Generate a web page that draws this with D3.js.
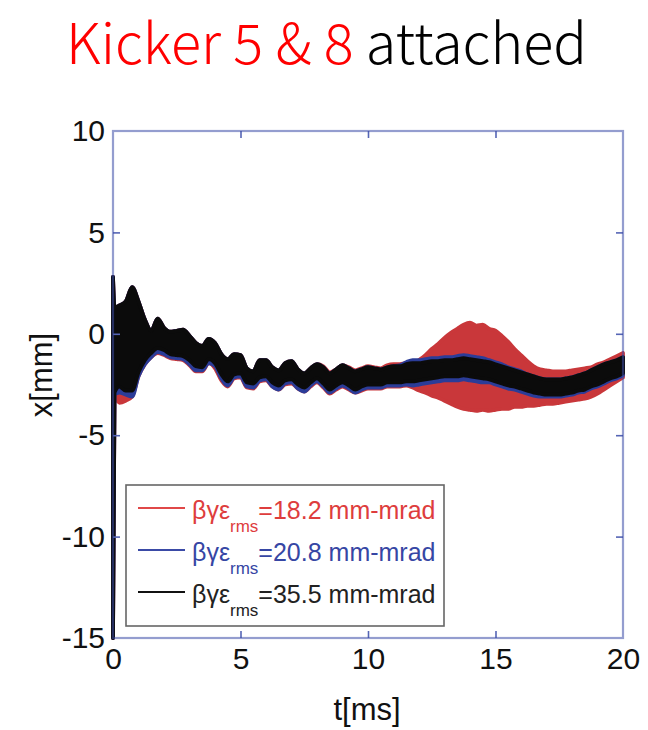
<!DOCTYPE html>
<html>
<head>
<meta charset="utf-8">
<script src="https://cdn.jsdelivr.net/npm/d3@7"></script>
<style>
  html, body { margin: 0; padding: 0; background: #fff; }
  svg { display: block; }
</style>
</head>
<body>
<svg id="chart" width="648" height="730"></svg>
<script>
// ---------- DATA ----------
const titleRed = "Kicker 5 & 8";
const titleBlack = " attached";
const xTicks = [0, 5, 10, 15, 20];
const yTicks = [10, 5, 0, -5, -10, -15];
const xLabel = "t[ms]";
const yLabel = "x[mm]";
const seriesNames = ["18.2 mm-mrad", "20.8 mm-mrad", "35.5 mm-mrad"];

const time = [
  0, 0.06,
  0.25, 0.5, 0.75, 1.0,
  1.25, 1.5, 1.75, 2.0,
  2.25, 2.5, 2.75, 3.0,
  3.25, 3.5, 3.75, 4.0,
  4.25, 4.5, 4.75, 5.0,
  5.25, 5.5, 5.75, 6.0,
  6.25, 6.5, 6.75, 7.0,
  7.25, 7.5, 7.75, 8.0,
  8.25, 8.5, 8.75, 9.0,
  9.25, 9.5, 9.75, 10.0,
  10.25, 10.5, 10.75, 11.0,
  11.25, 11.5, 11.75, 12.0,
  12.25, 12.5, 12.75, 13.0,
  13.25, 13.5, 13.75, 14.0,
  14.25, 14.5, 14.75, 15.0,
  15.25, 15.5, 15.75, 16.0,
  16.25, 16.5, 16.75, 17.0,
  17.25, 17.5, 17.75, 18.0,
  18.25, 18.5, 18.75, 19.0,
  19.25, 19.5, 19.75, 20.0
];

// envelope (upper / lower) of the fast oscillation, emittance 18.2 mm-mrad (red)
const redHi = [
  2.8, 1.3,
  1.4, 1.6, 2.3, 1.6,
  0.7, 0.15, 0.75, 0.3,
  0.1, 0.15, 0.2, -0.1,
  -0.45, -0.6, -0.25, -0.45,
  -1.0, -1.25, -1.0, -1.05,
  -1.7, -1.85, -1.3, -1.3,
  -1.65, -1.8, -1.45, -1.35,
  -1.75, -1.95, -1.7, -1.5,
  -1.6, -1.9, -1.75, -1.55,
  -1.65, -1.8, -1.7, -1.6,
  -1.65, -1.7, -1.55, -1.5,
  -1.5, -1.45, -1.5, -1.3,
  -1.05, -0.75, -0.5, -0.2,
  0.05, 0.25, 0.45, 0.55,
  0.4, 0.45, 0.25, 0.15,
  -0.1, -0.4, -0.75, -1.05,
  -1.35, -1.6, -1.75, -1.8,
  -1.85, -1.85, -1.85, -1.8,
  -1.75, -1.7, -1.65, -1.5,
  -1.4, -1.25, -1.1, -0.95
];
const redLo = [
  -15, -3.1,
  -3.4, -3.3, -3.1, -2.1,
  -1.5, -1.15, -0.95, -1.05,
  -1.2, -1.25, -1.3, -1.55,
  -1.85, -1.85, -1.45, -1.7,
  -2.3, -2.6, -2.2, -2.15,
  -2.65, -2.7, -2.35, -2.3,
  -2.6, -2.75, -2.5, -2.45,
  -2.7, -2.85, -2.6, -2.4,
  -2.65, -2.95, -2.75, -2.6,
  -2.75, -2.9, -2.8, -2.7,
  -2.7, -2.7, -2.6, -2.6,
  -2.6, -2.55, -2.65, -2.8,
  -2.9, -3.05, -3.15, -3.3,
  -3.45, -3.6, -3.7, -3.75,
  -3.8, -3.75, -3.8, -3.75,
  -3.7, -3.7, -3.6, -3.6,
  -3.55, -3.55, -3.5, -3.45,
  -3.45, -3.4, -3.35, -3.3,
  -3.25, -3.2, -3.1, -2.95,
  -2.75, -2.55, -2.35, -2.15
];

// emittance 20.8 mm-mrad (blue)
const blueHi = [
  2.8, 1.3,
  1.4, 1.6, 2.3, 1.6,
  0.7, 0.15, 0.75, 0.3,
  0.1, 0.15, 0.2, -0.1,
  -0.45, -0.6, -0.25, -0.45,
  -1.0, -1.25, -1.0, -1.05,
  -1.7, -1.85, -1.3, -1.3,
  -1.65, -1.8, -1.45, -1.35,
  -1.75, -1.95, -1.7, -1.5,
  -1.65, -1.95, -1.75, -1.55,
  -1.7, -1.85, -1.75, -1.65,
  -1.7, -1.75, -1.65, -1.6,
  -1.55, -1.4, -1.3, -1.3,
  -1.25, -1.2, -1.2, -1.15,
  -1.15, -1.1, -1.05, -1.1,
  -1.15, -1.2, -1.3, -1.4,
  -1.5, -1.65, -1.75, -1.85,
  -2.0, -2.1, -2.2, -2.25,
  -2.25, -2.25, -2.2, -2.15,
  -2.05, -1.95, -1.8, -1.65,
  -1.5, -1.4, -1.3, -1.15
];
const blueLo = [
  -15, -3.0,
  -2.9, -3.0, -3.1, -2.1,
  -1.5, -1.15, -0.9, -1.0,
  -1.15, -1.2, -1.25, -1.5,
  -1.8, -1.8, -1.45, -1.6,
  -2.2, -2.55, -2.15, -2.1,
  -2.6, -2.65, -2.3, -2.25,
  -2.6, -2.75, -2.45, -2.4,
  -2.7, -2.85, -2.55, -2.35,
  -2.6, -2.9, -2.7, -2.55,
  -2.7, -2.9, -2.75, -2.65,
  -2.65, -2.65, -2.55, -2.55,
  -2.55, -2.5, -2.55, -2.5,
  -2.45, -2.4, -2.35, -2.3,
  -2.3, -2.3, -2.25, -2.3,
  -2.35, -2.4, -2.4, -2.5,
  -2.6, -2.7, -2.75, -2.85,
  -2.95, -3.05, -3.1, -3.1,
  -3.1, -3.1, -3.05, -3.0,
  -2.9, -2.85, -2.7, -2.6,
  -2.45, -2.3, -2.2, -2.05
];

// emittance 35.5 mm-mrad (black)
const blackHi = [
  2.8, 1.3,
  1.4, 1.6, 2.3, 1.6,
  0.7, 0.15, 0.75, 0.3,
  0.1, 0.15, 0.2, -0.1,
  -0.45, -0.6, -0.25, -0.45,
  -1.0, -1.25, -1.0, -1.05,
  -1.7, -1.85, -1.3, -1.3,
  -1.65, -1.8, -1.45, -1.35,
  -1.75, -1.95, -1.7, -1.5,
  -1.65, -1.95, -1.75, -1.55,
  -1.7, -1.85, -1.75, -1.65,
  -1.7, -1.75, -1.65, -1.6,
  -1.6, -1.5, -1.45, -1.45,
  -1.4, -1.35, -1.35, -1.3,
  -1.3, -1.25, -1.2, -1.25,
  -1.3, -1.35, -1.4, -1.5,
  -1.6, -1.7, -1.8, -1.9,
  -2.0, -2.1, -2.2, -2.25,
  -2.25, -2.25, -2.2, -2.15,
  -2.05, -1.95, -1.8, -1.65,
  -1.5, -1.4, -1.3, -1.15
];
const blackLo = [
  -15, -2.9,
  -2.6, -2.8, -2.8, -1.9,
  -1.3, -0.95, -0.7, -0.8,
  -1.0, -1.05, -1.1, -1.3,
  -1.6, -1.65, -1.25, -1.45,
  -2.0, -2.35, -2.0, -1.95,
  -2.4, -2.45, -2.15, -2.1,
  -2.4, -2.55, -2.3, -2.25,
  -2.5, -2.65, -2.4, -2.2,
  -2.45, -2.75, -2.55, -2.4,
  -2.55, -2.75, -2.6, -2.5,
  -2.5, -2.5, -2.4, -2.4,
  -2.4, -2.35, -2.35, -2.3,
  -2.25, -2.2, -2.15, -2.1,
  -2.1, -2.1, -2.05, -2.1,
  -2.15, -2.2, -2.25, -2.35,
  -2.45, -2.55, -2.6, -2.7,
  -2.8, -2.9, -2.95, -3.0,
  -3.0, -3.0, -2.95, -2.9,
  -2.8, -2.75, -2.6, -2.5,
  -2.35, -2.2, -2.1, -1.95
];

// ---------- LAYOUT ----------
const svg = d3.select("#chart");
const plot = { left: 113, right: 623, top: 131, bottom: 638 };

const x = d3.scaleLinear().domain([0, 20]).range([plot.left, plot.right]);
const y = d3.scaleLinear().domain([-15, 10]).range([plot.bottom, plot.top]);

// ---------- TITLE ----------
const titleFont = "'Noto Sans CJK JP', 'Noto Sans', sans-serif";
const title = svg.append("text")
  .attr("x", 66).attr("y", 64)
  .attr("font-family", titleFont).attr("font-weight", 300)
  .attr("font-size", 40)
  .style("white-space", "pre");
title.append("tspan").attr("fill", "#ff0000").text(titleRed);
title.append("tspan").attr("fill", "#000").text(titleBlack);
// fit the title into the reference width (x 66 → 587 px)
const w40 = title.node().getComputedTextLength();
title.attr("font-size", 40 * 521 / w40);

// ---------- SERIES ----------
const series = [
  { hi: redHi, lo: redLo, color: "#c9373a" },
  { hi: blueHi, lo: blueLo, color: "#2b3c98" },
  { hi: blackHi, lo: blackLo, color: "#0b0b0b" }
];

const area = d3.area()
  .x(d => x(d.t))
  .y0(d => y(d.lo))
  .y1(d => y(d.hi))
  .curve(d3.curveMonotoneX);

const gData = svg.append("g");
series.forEach(s => {
  const pts = time.map((t, i) => ({ t, hi: s.hi[i], lo: s.lo[i] }));
  gData.append("path")
    .datum(pts)
    .attr("d", area)
    .attr("fill", s.color)
    .attr("stroke", s.color)
    .attr("stroke-width", 3.8)
    .attr("stroke-linejoin", "round");
});

// ---------- AXES ----------
const axisColor = "rgba(60,76,168,0.55)";
const tickColor = "#5565b5";
const tickFont = "'Liberation Sans', Arial, sans-serif";
const fmt = d => String(d);

function styleAxis(g, showLabels) {
  g.select(".domain").remove();
  g.selectAll(".tick line").attr("stroke", tickColor).attr("stroke-width", 1.6);
  g.selectAll(".tick text")
    .attr("fill", "#111")
    .attr("font-family", tickFont)
    .attr("font-size", 30);
  if (!showLabels) g.selectAll(".tick text").remove();
}

const innerXTicks = xTicks.filter(v => v > 0 && v < 20);
const innerYTicks = yTicks.filter(v => v > -15 && v < 10);

// tick marks (inward)
svg.append("g").attr("transform", `translate(0,${plot.bottom})`)
  .call(d3.axisBottom(x).tickValues(innerXTicks).tickSize(-7).tickFormat(""))
  .call(g => styleAxis(g, false));
svg.append("g").attr("transform", `translate(0,${plot.top})`)
  .call(d3.axisTop(x).tickValues(innerXTicks).tickSize(-7).tickFormat(""))
  .call(g => styleAxis(g, false));
svg.append("g").attr("transform", `translate(${plot.left},0)`)
  .call(d3.axisLeft(y).tickValues(innerYTicks).tickSize(-7).tickFormat(""))
  .call(g => styleAxis(g, false));
svg.append("g").attr("transform", `translate(${plot.right},0)`)
  .call(d3.axisRight(y).tickValues(innerYTicks).tickSize(-7).tickFormat(""))
  .call(g => styleAxis(g, false));

// frame
svg.append("rect")
  .attr("x", plot.left).attr("y", plot.top)
  .attr("width", plot.right - plot.left).attr("height", plot.bottom - plot.top)
  .attr("fill", "none").attr("stroke", axisColor).attr("stroke-width", 2.2);

// tick labels
svg.append("g").attr("transform", `translate(0,${plot.bottom})`)
  .call(d3.axisBottom(x).tickValues(xTicks).tickSize(0).tickPadding(10).tickFormat(fmt))
  .call(g => styleAxis(g, true));
svg.append("g").attr("transform", `translate(${plot.left},0)`)
  .call(d3.axisLeft(y).tickValues(yTicks).tickSize(0).tickPadding(8).tickFormat(fmt))
  .call(g => styleAxis(g, true));

// axis titles
svg.append("text")
  .attr("x", 367).attr("y", 720)
  .attr("text-anchor", "middle")
  .attr("font-family", tickFont).attr("font-size", 31).attr("fill", "#111")
  .text(xLabel);
svg.append("text")
  .attr("transform", "translate(52,375) rotate(-90)")
  .attr("text-anchor", "middle")
  .attr("font-family", tickFont).attr("font-size", 31).attr("fill", "#111")
  .text(yLabel);

// ---------- LEGEND ----------
const legend = { x: 126, y: 485, w: 318, h: 141 };
const lg = svg.append("g");
lg.append("rect")
  .attr("x", legend.x).attr("y", legend.y)
  .attr("width", legend.w).attr("height", legend.h)
  .attr("fill", "#fff").attr("stroke", "#666").attr("stroke-width", 1.6);

const legendLine = ["#e04848", "#3a4aa6", "#111"];
const legendText = ["#de3d3d", "#3646a4", "#222"];
seriesNames.forEach((name, i) => {
  const base = 519 + i * 42;
  lg.append("line")
    .attr("x1", 138).attr("x2", 185)
    .attr("y1", base - 11).attr("y2", base - 11)
    .attr("stroke", legendLine[i]).attr("stroke-width", 2);
  const t = lg.append("text")
    .attr("x", 192).attr("y", base)
    .attr("font-family", tickFont).attr("font-size", 25)
    .attr("fill", legendText[i]);
  t.append("tspan").text("βγε");
  t.append("tspan").attr("font-size", 17).attr("dy", 13).text("rms");
  t.append("tspan").attr("dy", -13).text("=" + name);
});
</script>
</body>
</html>
